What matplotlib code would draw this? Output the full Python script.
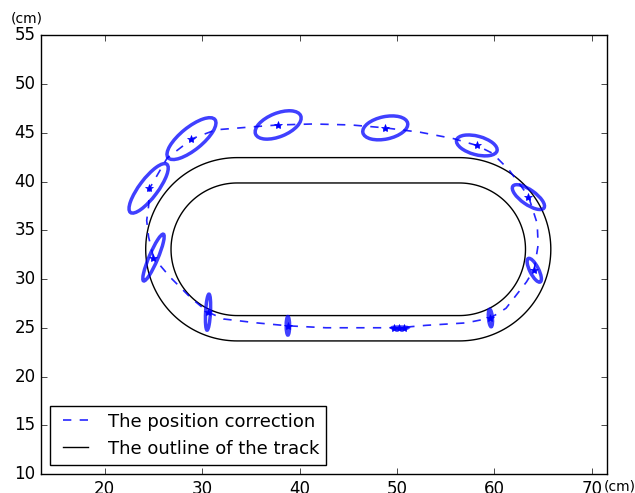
import matplotlib
matplotlib.use("Agg")
import matplotlib.pyplot as plt
from matplotlib.patches import Ellipse, Polygon
import numpy as np

# dashed path of the corrected position (cm)
path_x = [25.0, 24.5, 24.3, 24.5, 24.6, 26.4, 29.0, 31.4, 35.1, 37.8, 41.4, 45.3, 48.8,
          52.4, 55.8, 58.2, 59.8, 61.5, 63.5, 64.4, 64.5, 64.1, 63.3, 61.2, 59.6,
          57.1, 53.0, 50.2, 46.0, 42.7, 38.8, 35.6, 32.2, 30.6, 28.8, 26.7, 25.0]
path_y = [32.2, 34.3, 36.0, 37.5, 39.3, 42.4, 44.4, 45.3, 45.6, 45.8, 45.9, 45.8, 45.5,
          45.05, 44.4, 43.7, 42.9, 41.2, 38.5, 35.7, 33.5, 31.0, 29.7, 27.0, 26.0,
          25.5, 25.25, 25.0, 25.0, 25.0, 25.2, 25.5, 25.9, 26.6, 28.1, 30.2, 32.2]

# estimated positions (stars)
star_x = [25.0, 24.5, 28.9, 37.8, 48.8, 58.2, 63.5, 64.1, 59.6, 49.7, 50.2, 50.7, 38.8, 30.6]
star_y = [32.2, 39.3, 44.4, 45.8, 45.5, 43.7, 38.4, 30.9, 26.0, 25.0, 25.0, 25.0, 25.2, 26.6]

# uncertainty ellipses: centre, width, height, angle
ell_x = [25.0, 24.5, 28.9, 37.8, 48.8, 58.2, 63.5, 64.1, 59.6, 50.3, 38.8, 30.6]
ell_y = [32.2, 39.3, 44.4, 45.8, 45.5, 43.7, 38.4, 30.9, 26.0, 25.0, 25.2, 26.6]
ell_w = [5.2, 6.2, 6.2, 5.0, 4.7, 4.3, 3.9, 2.7, 1.8, 1.6, 1.9, 3.7]
ell_h = [0.9, 1.9, 2.3, 2.4, 2.3, 1.9, 1.5, 0.9, 0.4, 0.15, 0.35, 0.5]
ell_ang = [67, 53, 39, 22, 12, -15, -35, -63, 95, 0, 90, 87]

# track outline: straight between the two arc centres
track_cx = [33.6, 56.4]
track_cy = 33.05
track_r = [9.4, 6.8]


def stadium(r):
    t1 = np.linspace(-np.pi / 2, np.pi / 2, 100)
    t2 = np.linspace(np.pi / 2, 3 * np.pi / 2, 100)
    xs = np.concatenate([track_cx[1] + r * np.cos(t1), track_cx[0] + r * np.cos(t2)])
    ys = np.concatenate([track_cy + r * np.sin(t1), track_cy + r * np.sin(t2)])
    return np.column_stack([xs, ys])


plt.style.use("classic")
plt.rcParams["figure.facecolor"] = "white"
plt.rcParams["savefig.facecolor"] = "white"

fig = plt.figure(figsize=(6.35, 4.93), dpi=100)
ax = fig.add_axes([0.0646, 0.0385, 0.891, 0.890])

ax.plot(path_x, path_y, "--", color="blue", lw=1.2, alpha=0.85,
        label="The position correction")

for r in track_r:
    ax.add_patch(Polygon(stadium(r), closed=True, fill=False, edgecolor="black", lw=1.0))
ax.plot([], [], color="black", lw=1.0, label="The outline of the track")

for x, y, w, h, a in zip(ell_x, ell_y, ell_w, ell_h, ell_ang):
    ax.add_patch(Ellipse((x, y), w, h, angle=a, fill=False,
                         edgecolor="blue", lw=2.5, alpha=0.75))

ax.plot(star_x, star_y, "*", color="blue", mec="blue", ms=6, ls="none")

ax.set_xlim(13.45, 71.55)
ax.set_ylim(10, 55)
ax.set_xticks(np.arange(20, 71, 10))
ax.set_yticks(np.arange(10, 56, 5))
ax.tick_params(labelsize=12)

ax.legend(loc="lower left", fontsize=13, handlelength=2.0)

fig.text(0.0425, 0.963, "(cm)", fontsize=10, ha="center", va="center")
fig.text(0.976, 0.014, "(cm)", fontsize=10, ha="center", va="center")

fig.savefig("out.png", dpi=100)
